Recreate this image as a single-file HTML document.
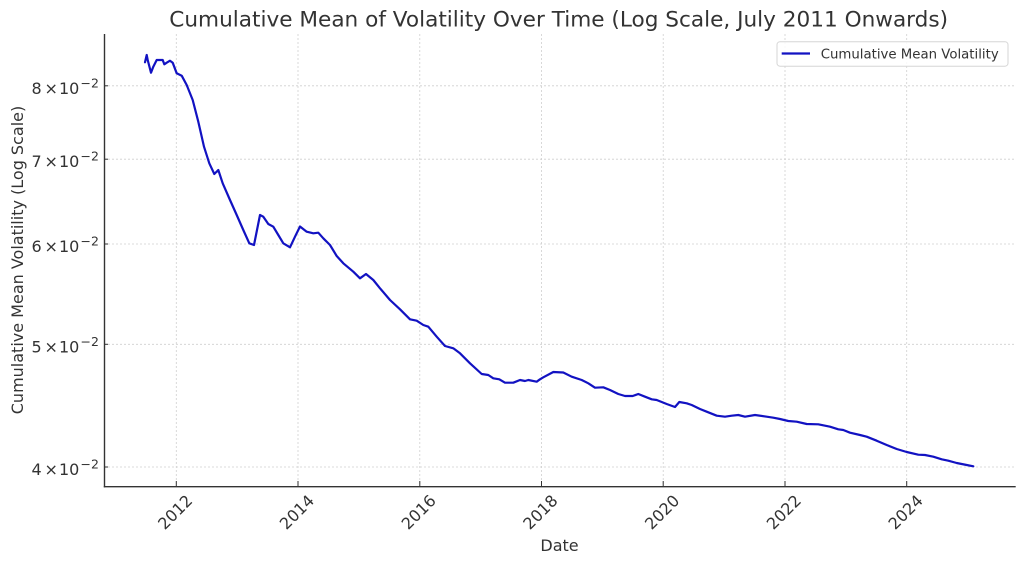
<!DOCTYPE html>
<html><head><meta charset="utf-8"><style>
html,body{margin:0;padding:0;background:#fff;}
svg{display:block;}
text{font-family:"DejaVu Sans","Liberation Sans",sans-serif;fill:#333;}
</style></head><body>
<svg width="1024" height="564" viewBox="0 0 1024 564" xmlns="http://www.w3.org/2000/svg">
<rect width="1024" height="564" fill="#fff"/>
<!-- grid -->
<g stroke="#cfcfcf" stroke-width="0.8" stroke-dasharray="2,2">
<line x1="104" y1="85.8" x2="1015.7" y2="85.8"/>
<line x1="104" y1="159.2" x2="1015.7" y2="159.2"/>
<line x1="104" y1="244" x2="1015.7" y2="244"/>
<line x1="104" y1="344.3" x2="1015.7" y2="344.3"/>
<line x1="104" y1="467" x2="1015.7" y2="467"/>
<line x1="176.3" y1="34" x2="176.3" y2="487"/>
<line x1="298" y1="34" x2="298" y2="487"/>
<line x1="419.8" y1="34" x2="419.8" y2="487"/>
<line x1="541.5" y1="34" x2="541.5" y2="487"/>
<line x1="663.2" y1="34" x2="663.2" y2="487"/>
<line x1="785" y1="34" x2="785" y2="487"/>
<line x1="906.7" y1="34" x2="906.7" y2="487"/>
</g>
<!-- series -->
<polyline fill="none" stroke="#1212c2" stroke-width="2.2" stroke-linejoin="round" stroke-linecap="round" points="
145,62.3 146.7,55 147.7,60 151,72.7 153.3,66.7 156.7,60 160,60 162.7,60 164.3,64.3 166.7,62.7 170,60.7 172.7,62.7 176.7,73.3 181.7,75.7 186.7,85 192.7,100 198.3,121.7 204,146.7 209.3,163.3 214.3,174 218.3,170 222.7,183.3 230,200 236.7,215 243.3,230 249.3,243.3 254,245 260,215 263.3,216.7 268.3,224 273.3,226.7 278.3,235 283.3,243.3 290,247.3 295,236.7 300,226.5 306.7,231.7 313.3,233.3 318.3,232.7 323.3,238.3 330,245 336.7,256 343.3,263.3 353.3,271.7 360,278.3 366,274 373.3,280 380,288.3 390,300 400,309.3 410,319.3 416.7,320.7 423.3,325 428.3,326.7 436.7,336.7 445,346 453.3,348.3 460,353.3 470,363.3 481.7,374 488.3,375 493.3,378.3 499.3,379.3 505,382.7 513.3,382.7 520,380 525,381 528.3,380 536.7,381.7 540,379.3 543.3,377.3 553.3,372 563.3,372.5 571.7,376.7 581.7,380 588.3,383.3 595,387.7 603.3,387.3 610,390 618.3,394 625,396 632.7,396 638.3,394 645,396.7 651.7,399.3 656.7,400 666.7,404 675,407 679.3,402 686.7,403.3 691.7,405 700,409 706.7,411.7 716.7,415.7 725,416.7 731.7,415.7 738.3,415 745,416.7 755,415 766.7,416.7 773.3,417.7 780,419 788.3,421 796.7,421.7 806.7,424 818.3,424.3 830,426.7 838.3,429.3 843.3,430 850,432.7 860,435 866.7,436.7 876.7,440.7 886.7,445 896.7,449 906.7,452 918.3,454.7 925,455 933.3,456.7 941.7,459.3 948.3,460.7 956.7,463 966.7,465 973.3,466.3"/>
<!-- spines -->
<g stroke="#333" stroke-width="1.4">
<line x1="104.5" y1="34" x2="104.5" y2="487.4"/>
<line x1="103.8" y1="486.7" x2="1015.7" y2="486.7"/>
</g>
<!-- ticks (inward) -->
<g stroke="#333" stroke-width="1">
<line x1="176.3" y1="481" x2="176.3" y2="486.7"/>
<line x1="298" y1="481" x2="298" y2="486.7"/>
<line x1="419.8" y1="481" x2="419.8" y2="486.7"/>
<line x1="541.5" y1="481" x2="541.5" y2="486.7"/>
<line x1="663.2" y1="481" x2="663.2" y2="486.7"/>
<line x1="785" y1="481" x2="785" y2="486.7"/>
<line x1="906.7" y1="481" x2="906.7" y2="486.7"/>
<line x1="104.5" y1="85.8" x2="108" y2="85.8"/>
<line x1="104.5" y1="159.2" x2="108" y2="159.2"/>
<line x1="104.5" y1="244" x2="108" y2="244"/>
<line x1="104.5" y1="344.3" x2="108" y2="344.3"/>
<line x1="104.5" y1="467" x2="108" y2="467"/>
</g>
<!-- y tick labels -->
<g font-size="16">
<g transform="translate(0,85.8)"><text x="31.5" y="8">8</text><text x="44.5" y="8">×</text><text x="59" y="8">10</text><text x="80.5" y="1.5" font-size="12.5">−2</text></g>
<g transform="translate(0,159.2)"><text x="31.5" y="8">7</text><text x="44.5" y="8">×</text><text x="59" y="8">10</text><text x="80.5" y="1.5" font-size="12.5">−2</text></g>
<g transform="translate(0,244)"><text x="31.5" y="8">6</text><text x="44.5" y="8">×</text><text x="59" y="8">10</text><text x="80.5" y="1.5" font-size="12.5">−2</text></g>
<g transform="translate(0,344.3)"><text x="31.5" y="8">5</text><text x="44.5" y="8">×</text><text x="59" y="8">10</text><text x="80.5" y="1.5" font-size="12.5">−2</text></g>
<g transform="translate(0,467)"><text x="31.5" y="8">4</text><text x="44.5" y="8">×</text><text x="59" y="8">10</text><text x="80.5" y="1.5" font-size="12.5">−2</text></g>
</g>
<!-- x tick labels -->
<g font-size="16" text-anchor="middle">
<text transform="translate(175,512) rotate(-45)" y="5.8">2012</text>
<text transform="translate(296.7,512) rotate(-45)" y="5.8">2014</text>
<text transform="translate(418.5,512) rotate(-45)" y="5.8">2016</text>
<text transform="translate(540.2,512) rotate(-45)" y="5.8">2018</text>
<text transform="translate(661.9,512) rotate(-45)" y="5.8">2020</text>
<text transform="translate(783.7,512) rotate(-45)" y="5.8">2022</text>
<text transform="translate(905.4,512) rotate(-45)" y="5.8">2024</text>
</g>
<!-- axis labels -->
<text x="559.5" y="551" font-size="16" text-anchor="middle">Date</text>
<text transform="translate(23,260) rotate(-90)" font-size="16" text-anchor="middle">Cumulative Mean Volatility (Log Scale)</text>
<!-- title -->
<text x="558.7" y="26.7" font-size="21.6" text-anchor="middle">Cumulative Mean of Volatility Over Time (Log Scale, July 2011 Onwards)</text>
<!-- legend -->
<rect x="777" y="41.7" width="231" height="24.5" rx="3" ry="3" fill="#fff" fill-opacity="0.85" stroke="#d6d6d6" stroke-width="1"/>
<line x1="781.7" y1="53.5" x2="810" y2="53.5" stroke="#1212c2" stroke-width="2.2"/>
<text x="820.7" y="58.3" font-size="13.3">Cumulative Mean Volatility</text>
</svg>
</body></html>
